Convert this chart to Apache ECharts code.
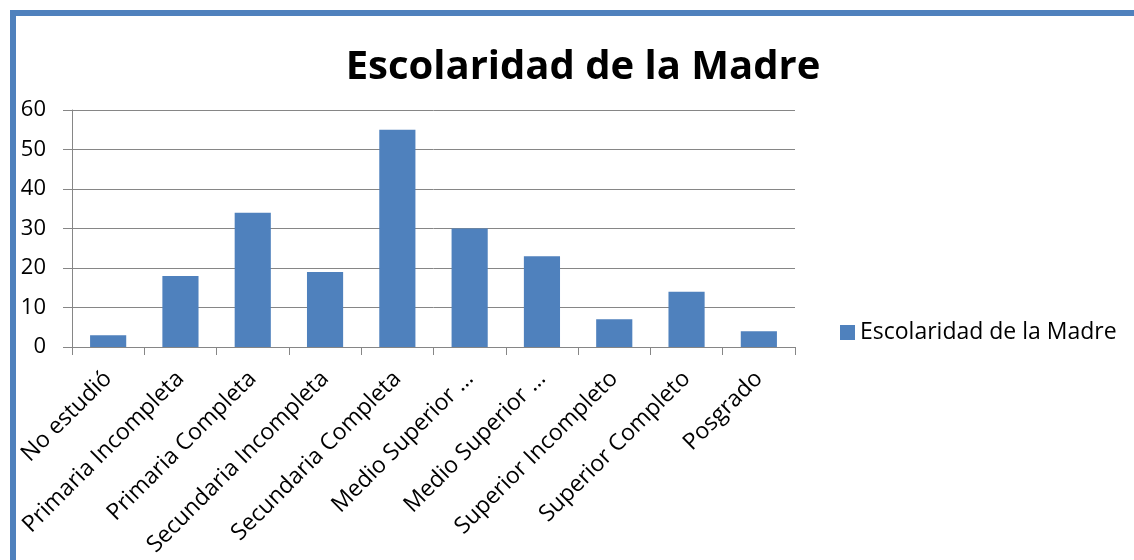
<!DOCTYPE html>
<html>
<head>
<meta charset="utf-8">
<script src="https://cdn.jsdelivr.net/npm/echarts@6/dist/echarts.min.js"></script>
<style>
html,body{margin:0;padding:0;background:#fff;}
#frame{position:absolute;left:10px;top:10px;width:1130px;height:560px;border-top:6px solid #4F81BD;border-left:6px solid #4F81BD;box-sizing:border-box;}
#chart{position:absolute;left:0;top:0;width:1134px;height:560px;}
</style>
</head>
<body>
<div id="frame"></div>
<div id="chart"></div>
<script>
const titleText = "Escolaridad de la Madre";
const seriesName = "Escolaridad de la Madre";
const categories = ["No estudió","Primaria Incompleta","Primaria Completa","Secundaria Incompleta","Secundaria Completa","Medio Superior Incompleto","Medio Superior Completo","Superior Incompleto","Superior Completo","Posgrado"];
const values = [3,18,34,19,55,30,23,7,14,4];
const yMin = 0, yMax = 60, yStep = 10;

const chart = echarts.init(document.getElementById('chart'), null, {renderer:'canvas'});
const font = "'Open Sans', sans-serif";
chart.setOption({
  backgroundColor: 'transparent',
  animation: false,
  title: {
    text: titleText,
    left: 578, top: 43, textAlign: 'center',
    textStyle: {fontFamily: font, fontWeight: 'bold', fontSize: 40, color: '#000'}
  },
  legend: {
    data: [seriesName],
    orient: 'vertical',
    left: 835, top: 316,
    itemWidth: 15, itemHeight: 15, itemGap: 8,
    icon: 'rect',
    textStyle: {fontFamily: font, fontSize: 23, color: '#000'}
  },
  grid: {left: 72, right: 339, top: 110, bottom: 213, containLabel: false},
  xAxis: {
    type: 'category',
    data: categories,
    axisLine: {lineStyle: {color: '#868686', width: 1}},
    axisTick: {show: true, length: 8, lineStyle: {color: '#868686'}},
    axisLabel: {
      rotate: 45, margin: 28, interval: 0,
      fontFamily: font, fontSize: 23, color: '#000',
      formatter: function (v) {
        if (v.length > 22) { return v.split(' ').slice(0,2).join(' ') + ' …'; }
        return v;
      }
    }
  },
  yAxis: {
    type: 'value', min: yMin, max: yMax, interval: yStep,
    axisLine: {show: true, lineStyle: {color: '#868686', width: 1}},
    axisTick: {show: true, length: 9, lineStyle: {color: '#868686'}},
    splitLine: {show: true, lineStyle: {color: '#868686', width: 1}},
    axisLabel: {margin: 26, fontFamily: font, fontSize: 22, color: '#000'}
  },
  series: [{
    name: seriesName,
    type: 'bar',
    data: values,
    barCategoryGap: '50%',
    itemStyle: {color: '#4F81BD'}
  }]
});
</script>
</body>
</html>
